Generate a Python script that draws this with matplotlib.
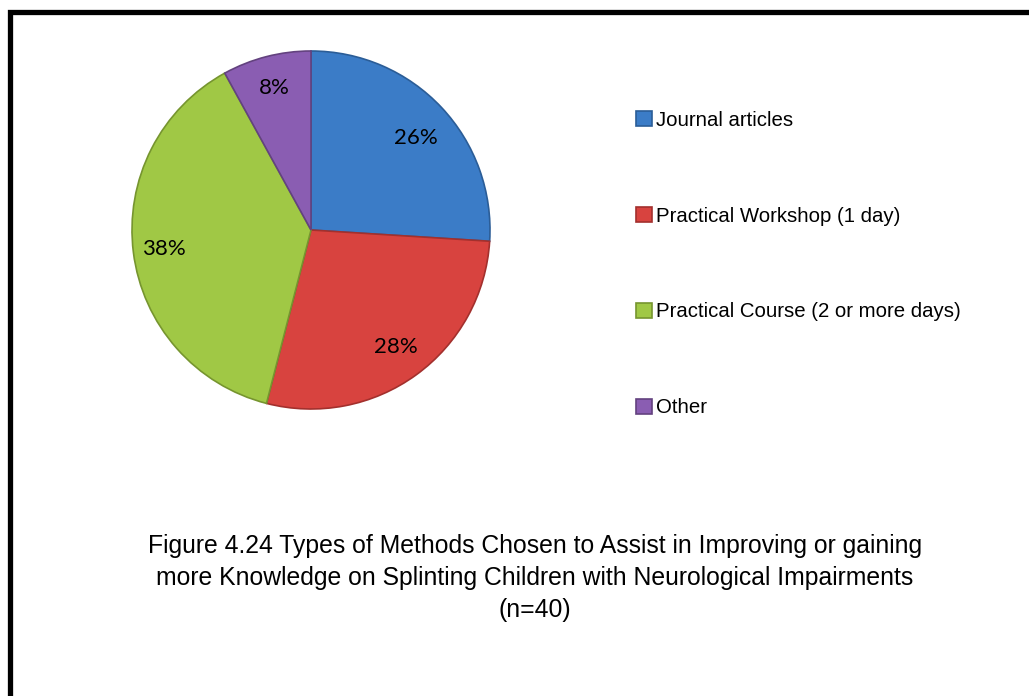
import matplotlib as mpl
mpl.use('Agg')
import matplotlib.pyplot as plt
import numpy as np
from matplotlib import font_manager
from matplotlib.patches import Rectangle

# data
categories = ['Journal articles', 'Practical Workshop (1 day)',
              'Practical Course (2 or more days)', 'Other']
shares = [26, 28, 38, 8]
caption = ('Figure 4.24 Types of Methods Chosen to Assist in Improving or gaining\n'
           'more Knowledge on Splinting Children with Neurological Impairments\n'
           '(n=40)')

# styles
face_colors = ['#3b7cc7', '#d8433f', '#a0c845', '#8a5db2']
edge_colors = ['#2b5d97', '#a3302d', '#76952f', '#63427f']
label_shift = [-2, 0, 0, 0]      # degrees
label_dist = [0.78, 0.81, 0.83, 0.82]

# arial narrow would be best, fall back to a smaller arial-like font
names = {f.name for f in font_manager.fontManager.ttflist}
if 'Liberation Sans Narrow' in names:
    narrow, legend_size, caption_size = 'Liberation Sans Narrow', 15.5, 20
else:
    narrow, legend_size, caption_size = 'Liberation Sans', 14.7, 17.8

W, H = 1029, 696
fig = plt.figure(figsize=(W / 100, H / 100), dpi=100)
fig.patch.set_facecolor('white')

# frame round the figure (only left and top show in the picture)
fig.patches.append(Rectangle((9.5 / W, -0.1), 1.2, 1.1 - 12.3 / H,
                             transform=fig.transFigure, fill=False,
                             edgecolor='black', linewidth=3.8))

# pie axes: center (311, 230), radius ~179 px
cx, cy, r = 311, 230, 179
lim = 1.05
ax = fig.add_axes([(cx - r * lim) / W, (H - cy - r * lim) / H,
                   2 * r * lim / W, 2 * r * lim / H])
wedges, texts, autotexts = ax.pie(
    shares, startangle=90, counterclock=False,
    colors=face_colors, autopct='%.0f%%', pctdistance=0.8,
    wedgeprops=dict(linewidth=1.2),
    textprops=dict(fontsize=16, family='Lato', color='black'))
for w, ec in zip(wedges, edge_colors):
    w.set_edgecolor(ec)
ax.set_xlim(-lim, lim)
ax.set_ylim(-lim, lim)
ax.set_aspect('equal')
ax.axis('off')

for t, w, shift, d in zip(autotexts, wedges, label_shift, label_dist):
    ang = np.deg2rad((w.theta1 + w.theta2) / 2 + shift)
    t.set_position((d * np.cos(ang), d * np.sin(ang)))

fig.legend(wedges, categories, loc='center left',
           bbox_to_anchor=(636 / W, 1 - 264 / H),
           frameon=False, borderpad=0, borderaxespad=0,
           handlelength=0.78, handleheight=0.78, handletextpad=0.2,
           labelspacing=3.77, prop=dict(family=narrow, size=legend_size))

fig.text(535 / W, 1 - 578 / H, caption, ha='center', va='center',
         family=narrow, fontsize=caption_size, linespacing=1.44)

plt.savefig('out.png', dpi=100)
